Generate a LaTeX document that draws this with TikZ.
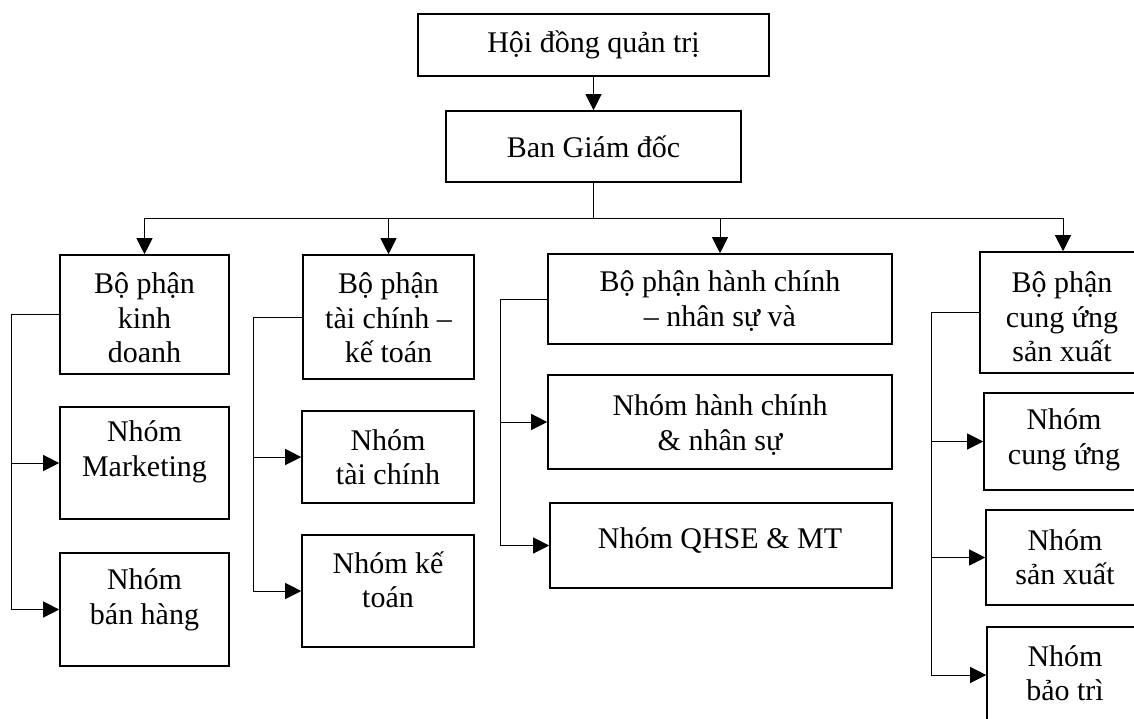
\documentclass[tikz,border=0pt]{standalone}
\usepackage{fontspec}
\setmainfont{Liberation Serif}
\usetikzlibrary{arrows.meta}
\begin{document}
\begin{tikzpicture}[x=1pt,y=-1pt,
  box/.style={draw=black, line width=1.6pt, inner sep=0pt, rectangle},
  txt/.style={align=center, inner sep=0pt, font=\fontsize{30}{34.5}\selectfont},
  conn/.style={draw=black, line width=0.8pt},
  arr/.style={conn, -{Triangle[length=16pt,width=16pt]}}]
\useasboundingbox (0,0) rectangle (1134,718);
\clip (0,0) rectangle (1134,718);
% boxes
\node[box, minimum width=351, minimum height=62] (hd) at (593.5,45) {};
\node[box, minimum width=295, minimum height=71] (bgd) at (593.5,146.5) {};
\node[box, minimum width=169, minimum height=119] (kd) at (144.5,314.5) {};
\node[box, minimum width=169, minimum height=112] (mk) at (144.5,463) {};
\node[box, minimum width=169, minimum height=113] (bh) at (144.5,609.5) {};
\node[box, minimum width=171, minimum height=124] (tc) at (388.5,317) {};
\node[box, minimum width=172, minimum height=92] (ntc) at (388,457) {};
\node[box, minimum width=172, minimum height=112] (nkt) at (388,591) {};
\node[box, minimum width=344, minimum height=90] (hc) at (720,299) {};
\node[box, minimum width=344, minimum height=94] (nhc) at (720,422) {};
\node[box, minimum width=342, minimum height=85] (qh) at (721,545.5) {};
\node[box, minimum width=166, minimum height=121] (cu) at (1063,312.5) {};
\node[box, minimum width=162, minimum height=97] (ncu) at (1065,441.5) {};
\node[box, minimum width=162, minimum height=95] (nsx) at (1067,557.5) {};
\node[box, minimum width=162, minimum height=96] (nbt) at (1068,675) {};
% texts
\node[txt] (hdt) at (593.5,45) {Hội đồng quản trị};
\node[txt] (bgdt) at (593.5,147) {Ban Giám đốc};
\node[txt] (kdt) at (144.5,318) {Bộ phận\\kinh\\doanh};
\node[txt] (mkt) at (144.5,452) {Nhóm\\Marketing};
\node[txt] (bht) at (144.5,600) {Nhóm\\bán hàng};
\node[txt] (tct) at (388.5,318) {Bộ phận\\tài chính –\\kế toán};
\node[txt] (ntct) at (388,457) {Nhóm\\tài chính};
\node[txt] (nktt) at (388,580) {Nhóm kế\\toán};
\node[txt] (hct) at (720,301) {Bộ phận hành chính\\– nhân sự và};
\node[txt] (nhct) at (720,425) {Nhóm hành chính\\\& nhân sự};
\node[txt] (qht) at (720,540) {Nhóm QHSE \& MT};
\node[txt] (cut) at (1062,317) {Bộ phận\\cung ứng\\sản xuất};
\node[txt] (ncut) at (1064,440) {Nhóm\\cung ứng};
\node[txt] (nsxt) at (1065,557) {Nhóm\\sản xuất};
\node[txt] (nbtt) at (1065,673) {Nhóm\\bảo trì};
% connectors
\coordinate (bus) at (593.5,218);
\draw[arr] (hd.south) -- (bgd.north);
\draw[arr] (bgd.south) -- (bus) -| (kd.north);
\draw[arr] (bgd.south) -- (bus) -| (tc.north);
\draw[arr] (bgd.south) -- (bus) -| (hc.north);
\draw[arr] (bgd.south) -- (bus) -| (cu.north);
\draw[arr] (kd.west) -- ++(-48,0) |- (mk.west);
\draw[arr] (kd.west) -- ++(-48,0) |- (bh.west);
\draw[arr] (tc.west) -- ++(-49,0) |- (ntc.west);
\draw[arr] (tc.west) -- ++(-49,0) |- (nkt.west);
\draw[arr] (hc.west) -- ++(-47,0) |- (nhc.west);
\draw[arr] (hc.west) -- ++(-47,0) |- (qh.west);
\draw[arr] (cu.west) -- ++(-48,0) |- (ncu.west);
\draw[arr] (cu.west) -- ++(-48,0) |- (nsx.west);
\draw[arr] (cu.west) -- ++(-48,0) |- (nbt.west);
\end{tikzpicture}
\end{document}
